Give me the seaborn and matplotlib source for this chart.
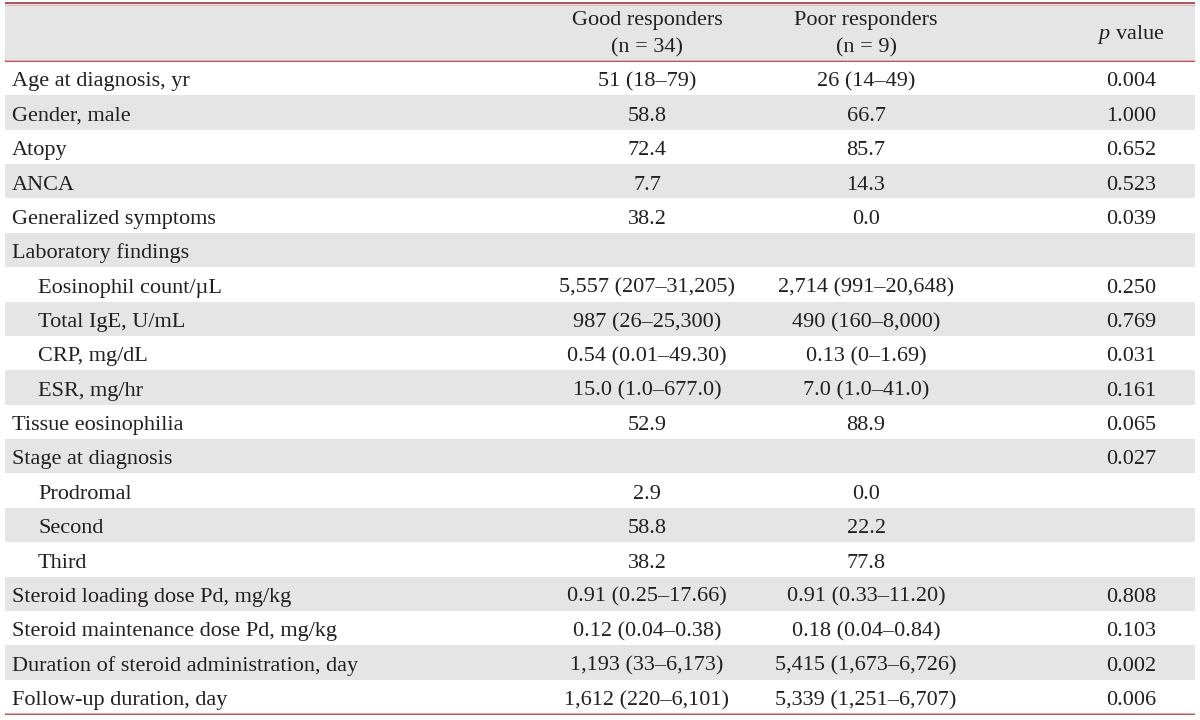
import numpy as np
import pandas as pd
import matplotlib
matplotlib.use("Agg")
import matplotlib.pyplot as plt
import matplotlib.transforms as mtransforms
import seaborn as sns
from matplotlib.colors import ListedColormap

sns.set_theme(style="white")
plt.rcParams['font.family'] = ['Liberation Serif', 'DejaVu Serif']
plt.rcParams['mathtext.fontset'] = 'custom'
plt.rcParams['mathtext.it'] = 'Liberation Serif:italic'
plt.rcParams['mathtext.rm'] = 'Liberation Serif'

# ---- data ----
header_cols = ["", "Good responders\n(n = 34)", "Poor responders\n(n = 9)", "p value"]
row_labels = [
    "Age at diagnosis, yr", "Gender, male", "Atopy", "ANCA", "Generalized symptoms",
    "Laboratory findings", "Eosinophil count/\u00b5L", "Total IgE, U/mL", "CRP, mg/dL",
    "ESR, mg/hr", "Tissue eosinophilia", "Stage at diagnosis", "Prodromal", "Second",
    "Third", "Steroid loading dose Pd, mg/kg", "Steroid maintenance dose Pd, mg/kg",
    "Duration of steroid administration, day", "Follow-up duration, day",
]
indented = [False, False, False, False, False, False, True, True, True, True,
            False, False, True, True, True, False, False, False, False]
good_vals = [
    "51 (18\u201379)", "58.8", "72.4", "7.7", "38.2", "", "5,557 (207\u201331,205)",
    "987 (26\u201325,300)", "0.54 (0.01\u201349.30)", "15.0 (1.0\u2013677.0)", "52.9", "",
    "2.9", "58.8", "38.2", "0.91 (0.25\u201317.66)", "0.12 (0.04\u20130.38)",
    "1,193 (33\u20136,173)", "1,612 (220\u20136,101)",
]
poor_vals = [
    "26 (14\u201349)", "66.7", "85.7", "14.3", "0.0", "", "2,714 (991\u201320,648)",
    "490 (160\u20138,000)", "0.13 (0\u20131.69)", "7.0 (1.0\u201341.0)", "88.9", "",
    "0.0", "22.2", "77.8", "0.91 (0.33\u201311.20)", "0.18 (0.04\u20130.84)",
    "5,415 (1,673\u20136,726)", "5,339 (1,251\u20136,707)",
]
p_vals = [
    "0.004", "1.000", "0.652", "0.523", "0.039", "", "0.250", "0.769", "0.031",
    "0.161", "0.065", "0.027", "", "", "", "0.808", "0.103", "0.002", "0.006",
]

# ---- layout (figure pixels) ----
W, H = 1200, 720
left_px, right_px = 5, 1195
top_px, head_bot_px, bot_px = 3, 61, 714
x_label, x_indent = 12, 38
x_good, x_poor, x_p = 647, 866, 1131

GRAY = "#e5e5e5"
RED = "#a8474c"
TXT = "#231f20"
FS = 16

fig = plt.figure(figsize=(W / 100, H / 100), dpi=100)
fig.patch.set_facecolor("white")

def fx(px):
    return (px - left_px) / (right_px - left_px)

cmap = ListedColormap(["white", GRAY])

# header axes
axh = fig.add_axes([left_px / W, 1 - head_bot_px / H, (right_px - left_px) / W,
                    (head_bot_px - top_px) / H])
sns.heatmap(pd.DataFrame([[1]]), cmap=cmap, vmin=0, vmax=1, cbar=False, ax=axh,
            xticklabels=False, yticklabels=False)
axh.set_axis_off()
trh = mtransforms.blended_transform_factory(axh.transAxes, axh.transData)
def hy(px):
    return (px - top_px) / (head_bot_px - top_px)
g1, g2 = header_cols[1].split("\n")
p1, p2 = header_cols[2].split("\n")
kw = dict(transform=trh, ha="center", va="baseline", fontsize=FS, color=TXT)
axh.text(fx(x_good), hy(25), g1, **kw)
axh.text(fx(x_good), hy(52), g2, **kw)
axh.text(fx(x_poor), hy(25), p1, **kw)
axh.text(fx(x_poor), hy(52), p2, **kw)
axh.text(fx(x_p), hy(39), r"$\it{p}$" + " value", **kw)

# body axes
n = len(row_labels)
axb = fig.add_axes([left_px / W, 1 - bot_px / H, (right_px - left_px) / W,
                    (bot_px - head_bot_px) / H])
stripes = pd.DataFrame({"stripe": [i % 2 for i in range(n)]}, index=row_labels)
sns.heatmap(stripes, cmap=cmap, vmin=0, vmax=1, cbar=False, ax=axb,
            xticklabels=False, yticklabels=False)
axb.set_axis_off()
trb = mtransforms.blended_transform_factory(axb.transAxes, axb.transData)
for i in range(n):
    y = i + 0.74
    xl = x_indent if indented[i] else x_label
    axb.text(fx(xl), y, row_labels[i], transform=trb, ha="left", va="baseline",
             fontsize=FS, color=TXT)
    axb.text(fx(x_good), y, good_vals[i], transform=trb, ha="center", va="baseline",
             fontsize=FS, color=TXT)
    axb.text(fx(x_poor), y, poor_vals[i], transform=trb, ha="center", va="baseline",
             fontsize=FS, color=TXT)
    axb.text(fx(x_p), y, p_vals[i], transform=trb, ha="center", va="baseline",
             fontsize=FS, color=TXT)

# rules
for ypx, off in ((top_px, -1.5), (head_bot_px, 1.5), (bot_px, 1.5)):
    yf = 1 - ypx / H
    fig.add_artist(plt.Line2D([left_px / W, right_px / W], [yf, yf], color=RED,
                              lw=1.3, solid_capstyle="butt"))
    fig.add_artist(plt.Line2D([left_px / W, right_px / W], [yf + off / H, yf + off / H],
                              color="#eab0b3", lw=0.7, solid_capstyle="butt"))

fig.savefig("out.png", dpi=100, facecolor="white")
